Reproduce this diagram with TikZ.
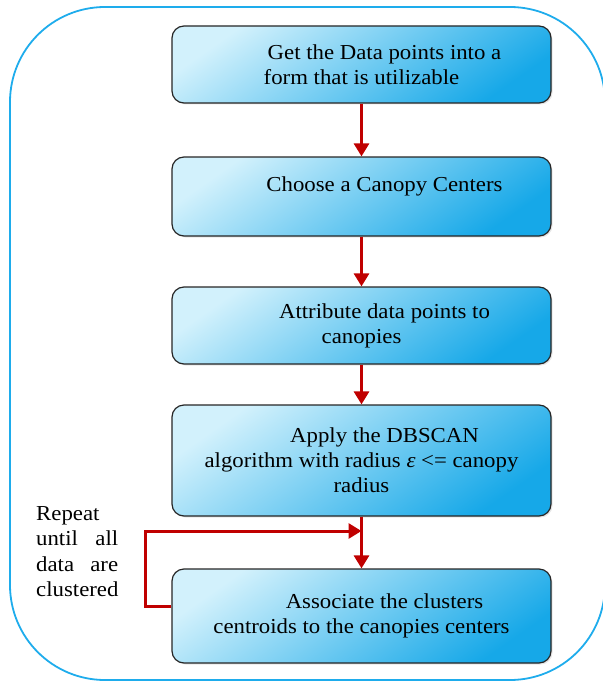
\documentclass[tikz,border=0pt]{standalone}
\usepackage{fontspec}
\setmainfont{Liberation Serif}[FakeStretch=1.07]
\usetikzlibrary{arrows.meta,shadows}

\definecolor{framecyan}{RGB}{30,172,236}
\definecolor{boxlight}{RGB}{210,241,252}
\definecolor{boxdark}{RGB}{22,168,232}
\definecolor{loopred}{RGB}{192,0,0}

\begin{document}
\begin{tikzpicture}[x=1pt,y=-1pt,
		stage/.style={draw=black!85, line width=1.2pt, rounded corners=12pt,
			minimum width=379pt, align=center, inner sep=0pt,
			top color=boxlight, bottom color=boxdark, shading angle=35,
			drop shadow={opacity=0.2,shadow xshift=1.5pt,shadow yshift=-1.5pt},
			font=\fontsize{21.3}{25}\selectfont},
		flow/.style={draw=loopred, line width=3pt, -{Triangle[length=13pt,width=15pt]}}]
	\useasboundingbox (0,0) rectangle (602,682);
	% outer frame, its right side runs off the page
	\draw[framecyan, line width=1.8pt, rounded corners=95pt] (10,7) rectangle (605,680);

	\node[stage, minimum height=77pt] (points) at (361.5,64.5)
		{\hspace*{46pt}Get the Data points into a\\form that is utilizable};
	\node[stage, minimum height=79pt] (centers) at (361.5,196.5)
		{\hspace*{46pt}Choose a Canopy Centers\\\mbox{}};
	\node[stage, minimum height=77pt] (attrib) at (361.5,325.5)
		{\hspace*{46pt}Attribute data points to\\canopies};
	\node[stage, minimum height=111pt] (dbscan) at (361.5,460.5)
		{\hspace*{46pt}Apply the DBSCAN\\algorithm with radius \textit{ε} <= canopy\\radius};
	\node[stage, minimum height=94pt] (assoc) at (361.5,616)
		{\hspace*{46pt}Associate the clusters\\centroids to the canopies centers};

	\node[font=\fontsize{21.3}{25.5}\selectfont, text width=82pt, align=left,
		inner sep=0pt, anchor=north west] (repeat) at (36,506)
		{Repeat\\\makebox[82pt]{until\hfill all}\\\makebox[82pt]{data\hfill are}\\clustered};

	\draw[flow] (points) -- (centers);
	\draw[flow] (centers) -- (attrib);
	\draw[flow] (attrib) -- (dbscan);
	\draw[flow] (dbscan) -- (assoc);

	% feedback loop back into the last arrow
	\coordinate (loop) at (145,531);
	\coordinate (join) at (361.5,531);
	\draw[flow] ([yshift=10pt]assoc.west) -| (loop) -- (join);
\end{tikzpicture}
\end{document}
